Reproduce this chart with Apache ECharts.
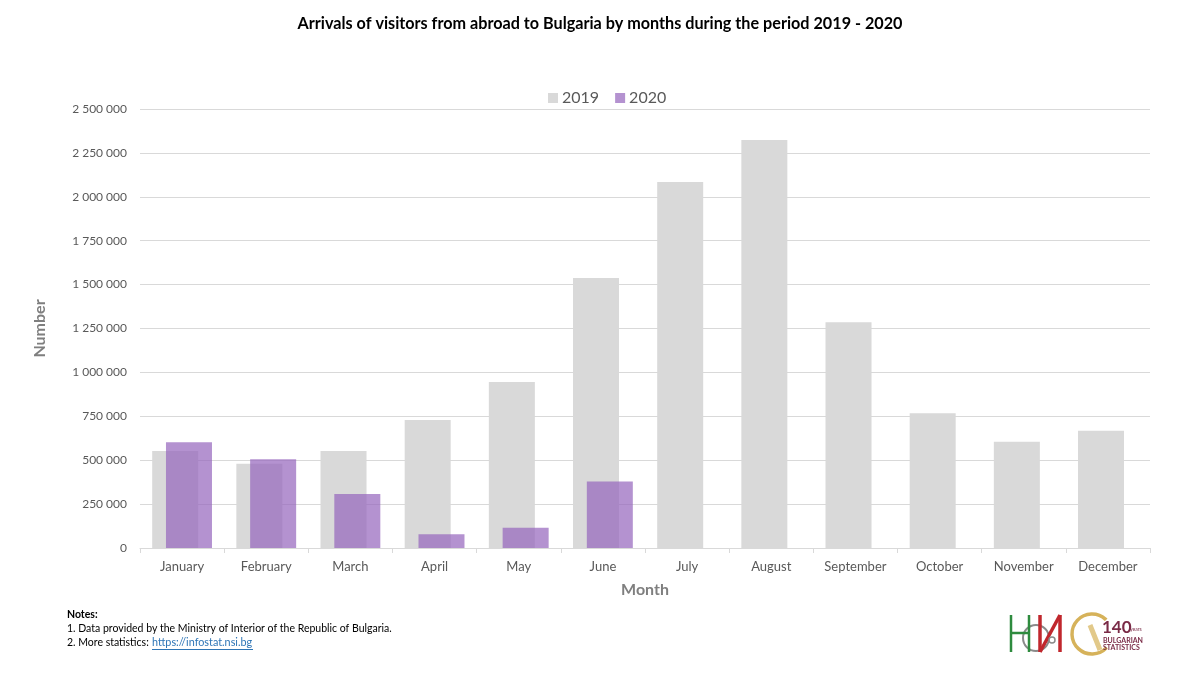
<!DOCTYPE html>
<html>
<head>
<meta charset="utf-8">
<script src="https://cdn.jsdelivr.net/npm/echarts@6/dist/echarts.min.js"></script>
<style>html,body{margin:0;padding:0;background:#fff}#c{width:1200px;height:675px}</style>
</head>
<body>
<div id="c"></div>
<script>
const months = ['January','February','March','April','May','June','July','August','September','October','November','December'];
const arrivals2019 = [552000, 480000, 552000, 729000, 945000, 1538000, 2084000, 2323000, 1285000, 767000, 605000, 668000];
const arrivals2020 = [602000, 505000, 308000, 78000, 116000, 378000, null, null, null, null, null, null];
const seriesNames = ['2019', '2020'];

const fmt = v => String(v).replace(/\B(?=(\d{3})+(?!\d))/g, ' ');
const FONT = 'Lato';

const chart = echarts.init(document.getElementById('c'));
chart.setOption({
  animation: false,
  title: {
    text: 'Arrivals of visitors from abroad to Bulgaria by months during the period 2019 - 2020',
    left: 'center', top: 11,
    textStyle: { fontFamily: FONT, fontSize: 16.2, fontWeight: 'bold', color: '#000' }
  },
  legend: {
    data: seriesNames, top: 85, left: 543,
    itemWidth: 10, itemHeight: 10, itemGap: 16,
    icon: 'rect',
    textStyle: { fontFamily: FONT, fontSize: 16, color: '#595959', padding: [0, 0, 0, -1] }
  },
  grid: { left: 140, right: 50, top: 109, bottom: 127 },
  xAxis: {
    type: 'category', data: months,
    name: 'Month', nameLocation: 'middle', nameGap: 34,
    nameTextStyle: { fontFamily: FONT, fontSize: 16, fontWeight: 'bold', color: '#7f7f7f' },
    axisLine: { lineStyle: { color: '#d9d9d9' } },
    axisTick: { show: true, length: 5, lineStyle: { color: '#d9d9d9' } },
    axisLabel: { fontFamily: FONT, fontSize: 13, color: '#595959', margin: 12 }
  },
  yAxis: {
    type: 'value', min: 0, max: 2500000, interval: 250000,
    name: 'Number', nameLocation: 'middle', nameGap: 92,
    nameTextStyle: { fontFamily: FONT, fontSize: 16, fontWeight: 'bold', color: '#7f7f7f' },
    axisLine: { show: false }, axisTick: { show: false },
    axisLabel: { fontFamily: FONT, fontSize: 12, color: '#595959', margin: 13, formatter: fmt },
    splitLine: { lineStyle: { color: '#d9d9d9' } }
  },
  series: [
    { name: seriesNames[0], type: 'bar', data: arrivals2019, barWidth: 46, barGap: '-70%',
      itemStyle: { color: '#d9d9d9' } },
    { name: seriesNames[1], type: 'bar', data: arrivals2020, barWidth: 46, barGap: '-70%',
      itemStyle: { color: 'rgba(148,100,188,0.70)' } }
  ],
  graphic: [
    { type: 'text', left: 67, top: 609, style: { text: 'Notes:', fontFamily: FONT, fontSize: 10.5, fontWeight: 'bold', fill: '#000' } },
    { type: 'text', left: 67, top: 623, style: { text: '1. Data provided by the Ministry of Interior of the Republic of Bulgaria.', fontFamily: FONT, fontSize: 10.5, fill: '#000' } },
    { type: 'text', left: 67, top: 637, style: { text: '2. More statistics: ', fontFamily: FONT, fontSize: 10.5, fill: '#000' } },
    { type: 'text', left: 152, top: 637, style: { text: 'https://infostat.nsi.bg', fontFamily: FONT, fontSize: 10.8, fill: '#2e75b6' } },
    { type: 'line', shape: { x1: 152, y1: 649.5, x2: 253, y2: 649.5 }, style: { stroke: '#2e75b6', lineWidth: 1 } },
    // NSI logo approximation
    { type: 'circle', shape: { cx: 1036, cy: 638, r: 13 }, style: { stroke: '#8a8a8a', lineWidth: 2, fill: 'none' } },
    { type: 'line', shape: { x1: 1011, y1: 615, x2: 1011, y2: 652 }, style: { stroke: '#2e8b3e', lineWidth: 2.5 } },
    { type: 'line', shape: { x1: 1029, y1: 615, x2: 1029, y2: 652 }, style: { stroke: '#2e8b3e', lineWidth: 2.5 } },
    { type: 'line', shape: { x1: 1011, y1: 633, x2: 1029, y2: 633 }, style: { stroke: '#2e8b3e', lineWidth: 2.5 } },
    { type: 'line', shape: { x1: 1040, y1: 615, x2: 1040, y2: 652 }, style: { stroke: '#c0272d', lineWidth: 3.5 } },
    { type: 'line', shape: { x1: 1060, y1: 615, x2: 1060, y2: 652 }, style: { stroke: '#c0272d', lineWidth: 3.5 } },
    { type: 'line', shape: { x1: 1040, y1: 652, x2: 1060, y2: 615 }, style: { stroke: '#c0272d', lineWidth: 3.5 } },
    { type: 'circle', shape: { cx: 1052, cy: 640, r: 3 }, style: { fill: '#fff', stroke: '#8a8a8a', lineWidth: 1.5 } },
    // 140 years logo approximation
    { type: 'arc', shape: { cx: 1092, cy: 634, r: 20, startAngle: 0.75, endAngle: 5.5 }, style: { stroke: '#d6b25a', lineWidth: 3.5, fill: 'none' } },
    { type: 'line', shape: { x1: 1090, y1: 625, x2: 1100, y2: 650 }, style: { stroke: '#e2c98a', lineWidth: 5 } },
    { type: 'text', left: 1102, top: 619, style: { text: '140', fontFamily: FONT, fontSize: 17, fontWeight: 'bold', fill: '#7a2b47' } },
    { type: 'text', left: 1130, top: 627, style: { text: 'years', fontFamily: FONT, fontSize: 5, fill: '#7a2b47' } },
    { type: 'text', left: 1103, top: 637, style: { text: 'BULGARIAN', fontFamily: FONT, fontSize: 7, fontWeight: 'bold', fill: '#7a2b47' } },
    { type: 'text', left: 1103, top: 644, style: { text: 'STATISTICS', fontFamily: FONT, fontSize: 7, fontWeight: 'bold', fill: '#7a2b47' } }
  ]
});
</script>
</body>
</html>
